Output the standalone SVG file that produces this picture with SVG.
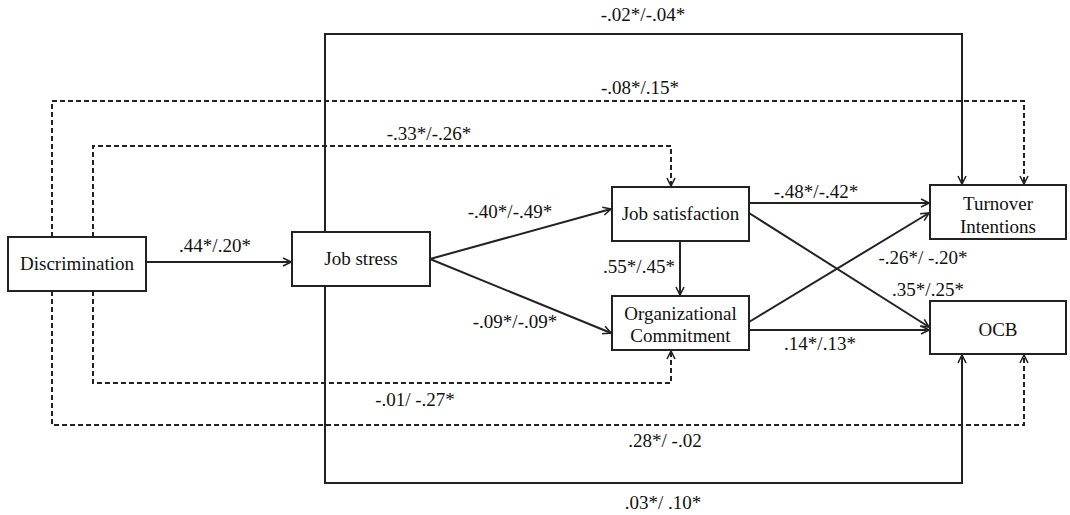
<svg xmlns="http://www.w3.org/2000/svg" width="1070" height="515" viewBox="0 0 1070 515" font-family="'Liberation Serif', 'Times New Roman', Times, serif">
<style>
.box{fill:#fff;stroke:#222;stroke-width:2}
.t{font-size:19px;fill:#111;text-anchor:middle}
.s{fill:none;stroke:#222;stroke-width:2}
.d{fill:none;stroke:#222;stroke-width:2;stroke-dasharray:5 3}
</style>
<defs>
<marker id="ah" markerWidth="10" markerHeight="10" refX="9" refY="5" orient="auto" markerUnits="userSpaceOnUse">
<path d="M1,1 L9,5 L1,9" fill="none" stroke="#222" stroke-width="1.6"/>
</marker>
</defs>
<g id="connectors">
<path class="s" d="M146,262 L291,262" marker-end="url(#ah)"/>
<path class="s" d="M430,259 L611,209" marker-end="url(#ah)"/>
<path class="s" d="M430,259 L611,333" marker-end="url(#ah)"/>
<path class="s" d="M680,241 L680,295" marker-end="url(#ah)"/>
<path class="s" d="M749,203 L929,203" marker-end="url(#ah)"/>
<path class="s" d="M749,213 L929,327" marker-end="url(#ah)"/>
<path class="s" d="M749,322 L929,213" marker-end="url(#ah)"/>
<path class="s" d="M749,330 L929,330" marker-end="url(#ah)"/>
<path class="s" d="M325,232 L325,34 L962,34 L962,184" marker-end="url(#ah)"/>
<path class="s" d="M325,286 L325,483 L962,483 L962,355" marker-end="url(#ah)"/>
<path class="d" d="M52,237 L52,101 L1024,101 L1024,184" marker-end="url(#ah)"/>
<path class="d" d="M93,237 L93,146 L671,146 L671,186" marker-end="url(#ah)"/>
<path class="d" d="M93,291 L93,383 L671,383 L671,351" marker-end="url(#ah)"/>
<path class="d" d="M52,291 L52,425 L1024,425 L1024,355" marker-end="url(#ah)"/>
</g>
<g id="labels" font-family="'Liberation Serif', serif">
<text class="t" x="643" y="21">-.02*/-.04*</text>
<text class="t" x="640" y="94">-.08*/.15*</text>
<text class="t" x="429" y="140">-.33*/-.26*</text>
<text class="t" x="215" y="252">.44*/.20*</text>
<text class="t" x="510" y="218">-.40*/-.49*</text>
<text class="t" x="515" y="328">-.09*/-.09*</text>
<text class="t" x="639" y="273">.55*/.45*</text>
<text class="t" x="816" y="198">-.48*/-.42*</text>
<text class="t" x="923" y="264">-.26*/ -.20*</text>
<text class="t" x="928" y="296">.35*/.25*</text>
<text class="t" x="820" y="350">.14*/.13*</text>
<text class="t" x="415" y="406">-.01/ -.27*</text>
<text class="t" x="665" y="447">.28*/ -.02</text>
<text class="t" x="663" y="509">.03*/ .10*</text>
</g>
<g id="discrimination">
<rect class="box" x="8" y="237" width="138" height="54"/>
<text class="t" x="77" y="270">Discrimination</text>
</g>
<g id="job-stress">
<rect class="box" x="292" y="232" width="138" height="54"/>
<text class="t" x="361" y="265">Job stress</text>
</g>
<g id="job-satisfaction">
<rect class="box" x="612" y="187" width="137" height="54"/>
<text class="t" x="680.5" y="220">Job satisfaction</text>
</g>
<g id="organizational-commitment">
<rect class="box" x="612" y="296" width="137" height="54"/>
<text class="t" x="680.5" y="320">Organizational</text>
<text class="t" x="680.5" y="342">Commitment</text>
</g>
<g id="turnover-intentions">
<rect class="box" x="930" y="185" width="136" height="54"/>
<text class="t" x="998" y="210">Turnover</text>
<text class="t" x="998" y="233">Intentions</text>
</g>
<g id="ocb">
<rect class="box" x="930" y="301" width="136" height="53"/>
<text class="t" x="998" y="336">OCB</text>
</g>
</svg>
